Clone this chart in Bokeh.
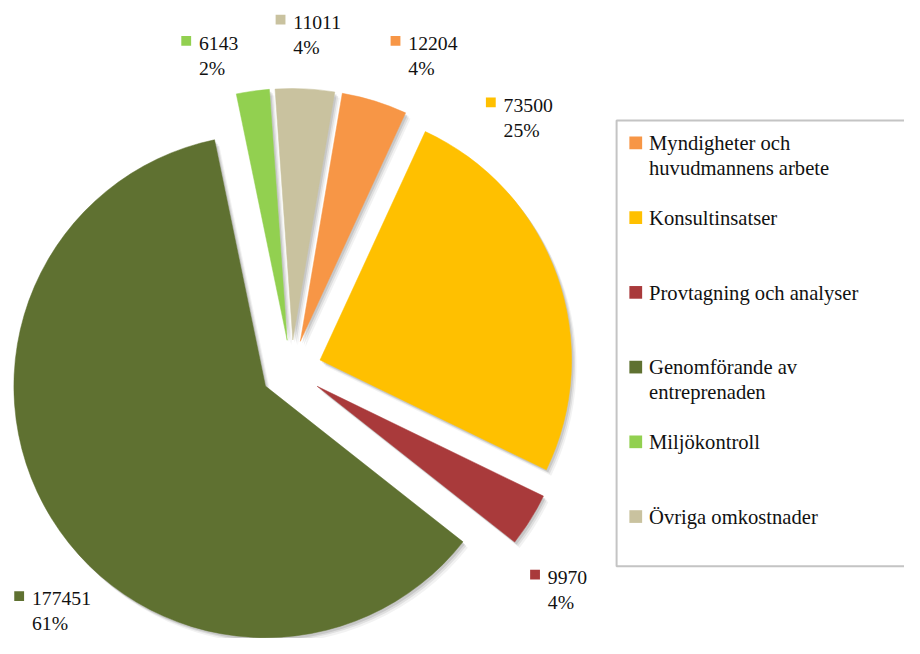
import numpy as np
from bokeh.plotting import figure
from bokeh.models import Range1d, ColumnDataSource
from bokeh.embed import file_html
from bokeh.resources import INLINE
from bokeh.core.properties import value

# ---------------- data ----------------
categories = [
    "Myndigheter och\nhuvudmannens arbete",
    "Konsultinsatser",
    "Provtagning och analyser",
    "Genomförande av\nentreprenaden",
    "Miljökontroll",
    "Övriga omkostnader",
]
amounts = [12204, 73500, 9970, 177451, 6143, 11011]
percent_labels = ["4%", "25%", "4%", "61%", "2%", "4%"]

# ---------------- style / layout ----------------
colors = ["#F79646", "#FFC000", "#A93A3B", "#5F7131", "#92D050", "#C9C29F"]
FONT = value("Liberation Serif")
W, H = 904, 638                # figure size in screen px
REF_W, REF_H = 920, 654        # layout coordinate space
S = W / REF_W
CX, CY = 296, 379              # pie centre
R = 256                        # pie radius
EXPLODE = 31                   # explosion distance
START_DEG = 9.6                # first slice starts this far clockwise from 12 o'clock
TEXT_DY = 5.6                  # baseline correction for the text renderer

# data-label anchors (text left, first-line baseline)
label_pos = [(415, 50), (512, 113), (557, 597), (32, 619), (202, 50), (298, 28)]
# legend
LEG_BOX = (627, 123, 980, 580)   # left, top, right, bottom
LEG_SQ_X, LEG_TX = 646.5, 660
LEG_Y0, LEG_STEP, LINE_STEP = 152, 76.6, 25


def Y(y):
    return -np.asarray(y, dtype=float)


def TY(y):
    return -(np.asarray(y, dtype=float) - TEXT_DY)


def fs(px):
    return f"{px * S:.1f}px"


p = figure(width=W, height=H, output_backend="svg", toolbar_location=None,
           x_range=Range1d(0, REF_W), y_range=Range1d(-REF_H, 0),
           x_axis_location=None, y_axis_location=None, min_border=0)
p.grid.visible = False
p.outline_line_color = None
p.background_fill_color = "white"

# ---------------- pie geometry from the data ----------------
vals = np.array(amounts, dtype=float)
frac = vals / vals.sum()
t1 = START_DEG + 360 * np.concatenate([[0], np.cumsum(frac)[:-1]])
t2 = t1 + 360 * frac
mid = np.radians((t1 + t2) / 2)
ax = CX + EXPLODE * np.sin(mid)
ay = CY - EXPLODE * np.cos(mid)
start = np.radians(90 - t2)
end = np.radians(90 - t1)

src = ColumnDataSource(dict(x=ax, y=Y(ay), start=start, end=end, color=colors))

# soft shadow
for dx, dy, a in [(5, 6, 0.05), (3.5, 4, 0.08), (2, 2.5, 0.10)]:
    p.wedge(x=ax + dx, y=Y(ay + dy), radius=R, start_angle=start, end_angle=end,
            fill_color="black", fill_alpha=a, line_color=None)

p.wedge(x="x", y="y", radius=R, start_angle="start", end_angle="end",
        fill_color="color", line_color="color", line_width=0.5, source=src)

# ---------------- data labels ----------------
lx = np.array([q[0] for q in label_pos], dtype=float)
ly = np.array([q[1] for q in label_pos], dtype=float)
p.rect(x=lx - 13, y=Y(ly - 8.5), width=10, height=10, fill_color=colors,
       line_color=None)
p.text(x=lx, y=TY(ly), text=[f"{v}" for v in amounts], text_font=FONT,
       text_font_size=fs(20), text_color="#111111", text_baseline="alphabetic",
       text_align="left")
p.text(x=lx, y=TY(ly + LINE_STEP), text=percent_labels, text_font=FONT,
       text_font_size=fs(20), text_color="#111111", text_baseline="alphabetic",
       text_align="left")

# ---------------- legend ----------------
l, t, r, b = LEG_BOX
p.quad(left=l, right=r, top=-t, bottom=-b, fill_color="white",
       line_color="#C4C4C4", line_width=2)
ey = LEG_Y0 + LEG_STEP * np.arange(len(categories))
p.rect(x=[LEG_SQ_X] * len(categories), y=Y(ey - 6), width=13, height=13,
       fill_color=colors, line_color=None)
tx, ty, tt = [], [], []
for i, name in enumerate(categories):
    for j, line in enumerate(name.split("\n")):
        tx.append(LEG_TX)
        ty.append(ey[i] + j * LINE_STEP)
        tt.append(line)
p.text(x=tx, y=TY(ty), text=tt, text_font=FONT, text_font_size=fs(21),
       text_color="#111111", text_baseline="alphabetic", text_align="left")

open("out.html", "w").write(file_html(p, INLINE))
